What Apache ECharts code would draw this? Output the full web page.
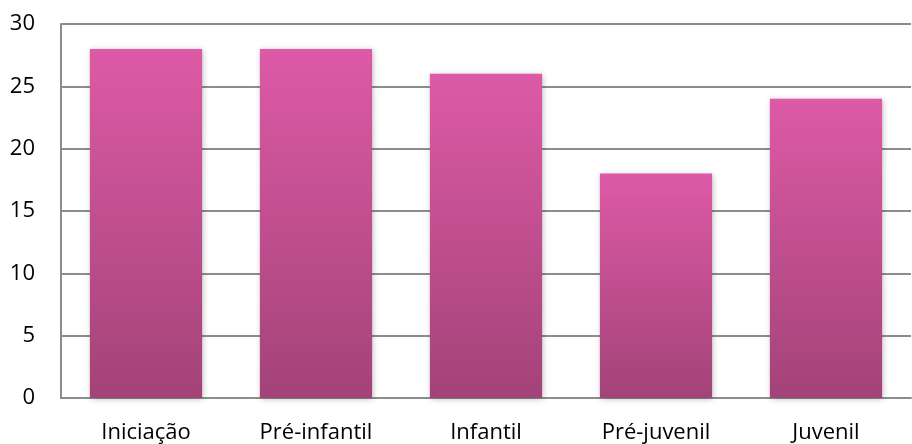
<!DOCTYPE html>
<html>
<head>
<meta charset="utf-8">
<script src="https://cdn.jsdelivr.net/npm/echarts@6/dist/echarts.min.js"></script>
<style>
html,body{margin:0;padding:0;background:#fff;}
#chart{width:912px;height:444px;}
</style>
</head>
<body>
<div id="chart"></div>
<script>
const categories = ['Iniciação', 'Pré-infantil', 'Infantil', 'Pré-juvenil', 'Juvenil'];
const values = [28, 28, 26, 18, 24];
const yTicks = [0, 5, 10, 15, 20, 25, 30];

const chart = echarts.init(document.getElementById('chart'));
chart.setOption({
  animation: false,
  grid: { left: 61, right: 1, top: 24, bottom: 46 },
  xAxis: {
    type: 'category',
    data: categories,
    axisLine: { show: true, lineStyle: { color: '#8c8c8c', width: 2 } },
    axisTick: { show: false },
    axisLabel: { color: '#000', fontFamily: 'Open Sans', fontSize: 22, margin: 24 }
  },
  yAxis: {
    type: 'value',
    min: yTicks[0],
    max: yTicks[yTicks.length - 1],
    interval: 5,
    axisLine: { show: true, lineStyle: { color: '#8c8c8c', width: 2 } },
    axisTick: { show: false },
    splitLine: { lineStyle: { color: '#8c8c8c', width: 2 } },
    axisLabel: { color: '#000', fontFamily: 'Open Sans', fontSize: 22, margin: 26 }
  },
  series: [{
    type: 'bar',
    data: values,
    barWidth: '66%',
    itemStyle: {
      color: new echarts.graphic.LinearGradient(0, 0, 0, 1, [
        { offset: 0, color: '#dd5aa6' },
        { offset: 1, color: '#a34378' }
      ]),
      shadowColor: 'rgba(0,0,0,0.25)',
      shadowBlur: 6,
      shadowOffsetX: 1,
      shadowOffsetY: 1
    }
  }]
});
</script>
</body>
</html>
